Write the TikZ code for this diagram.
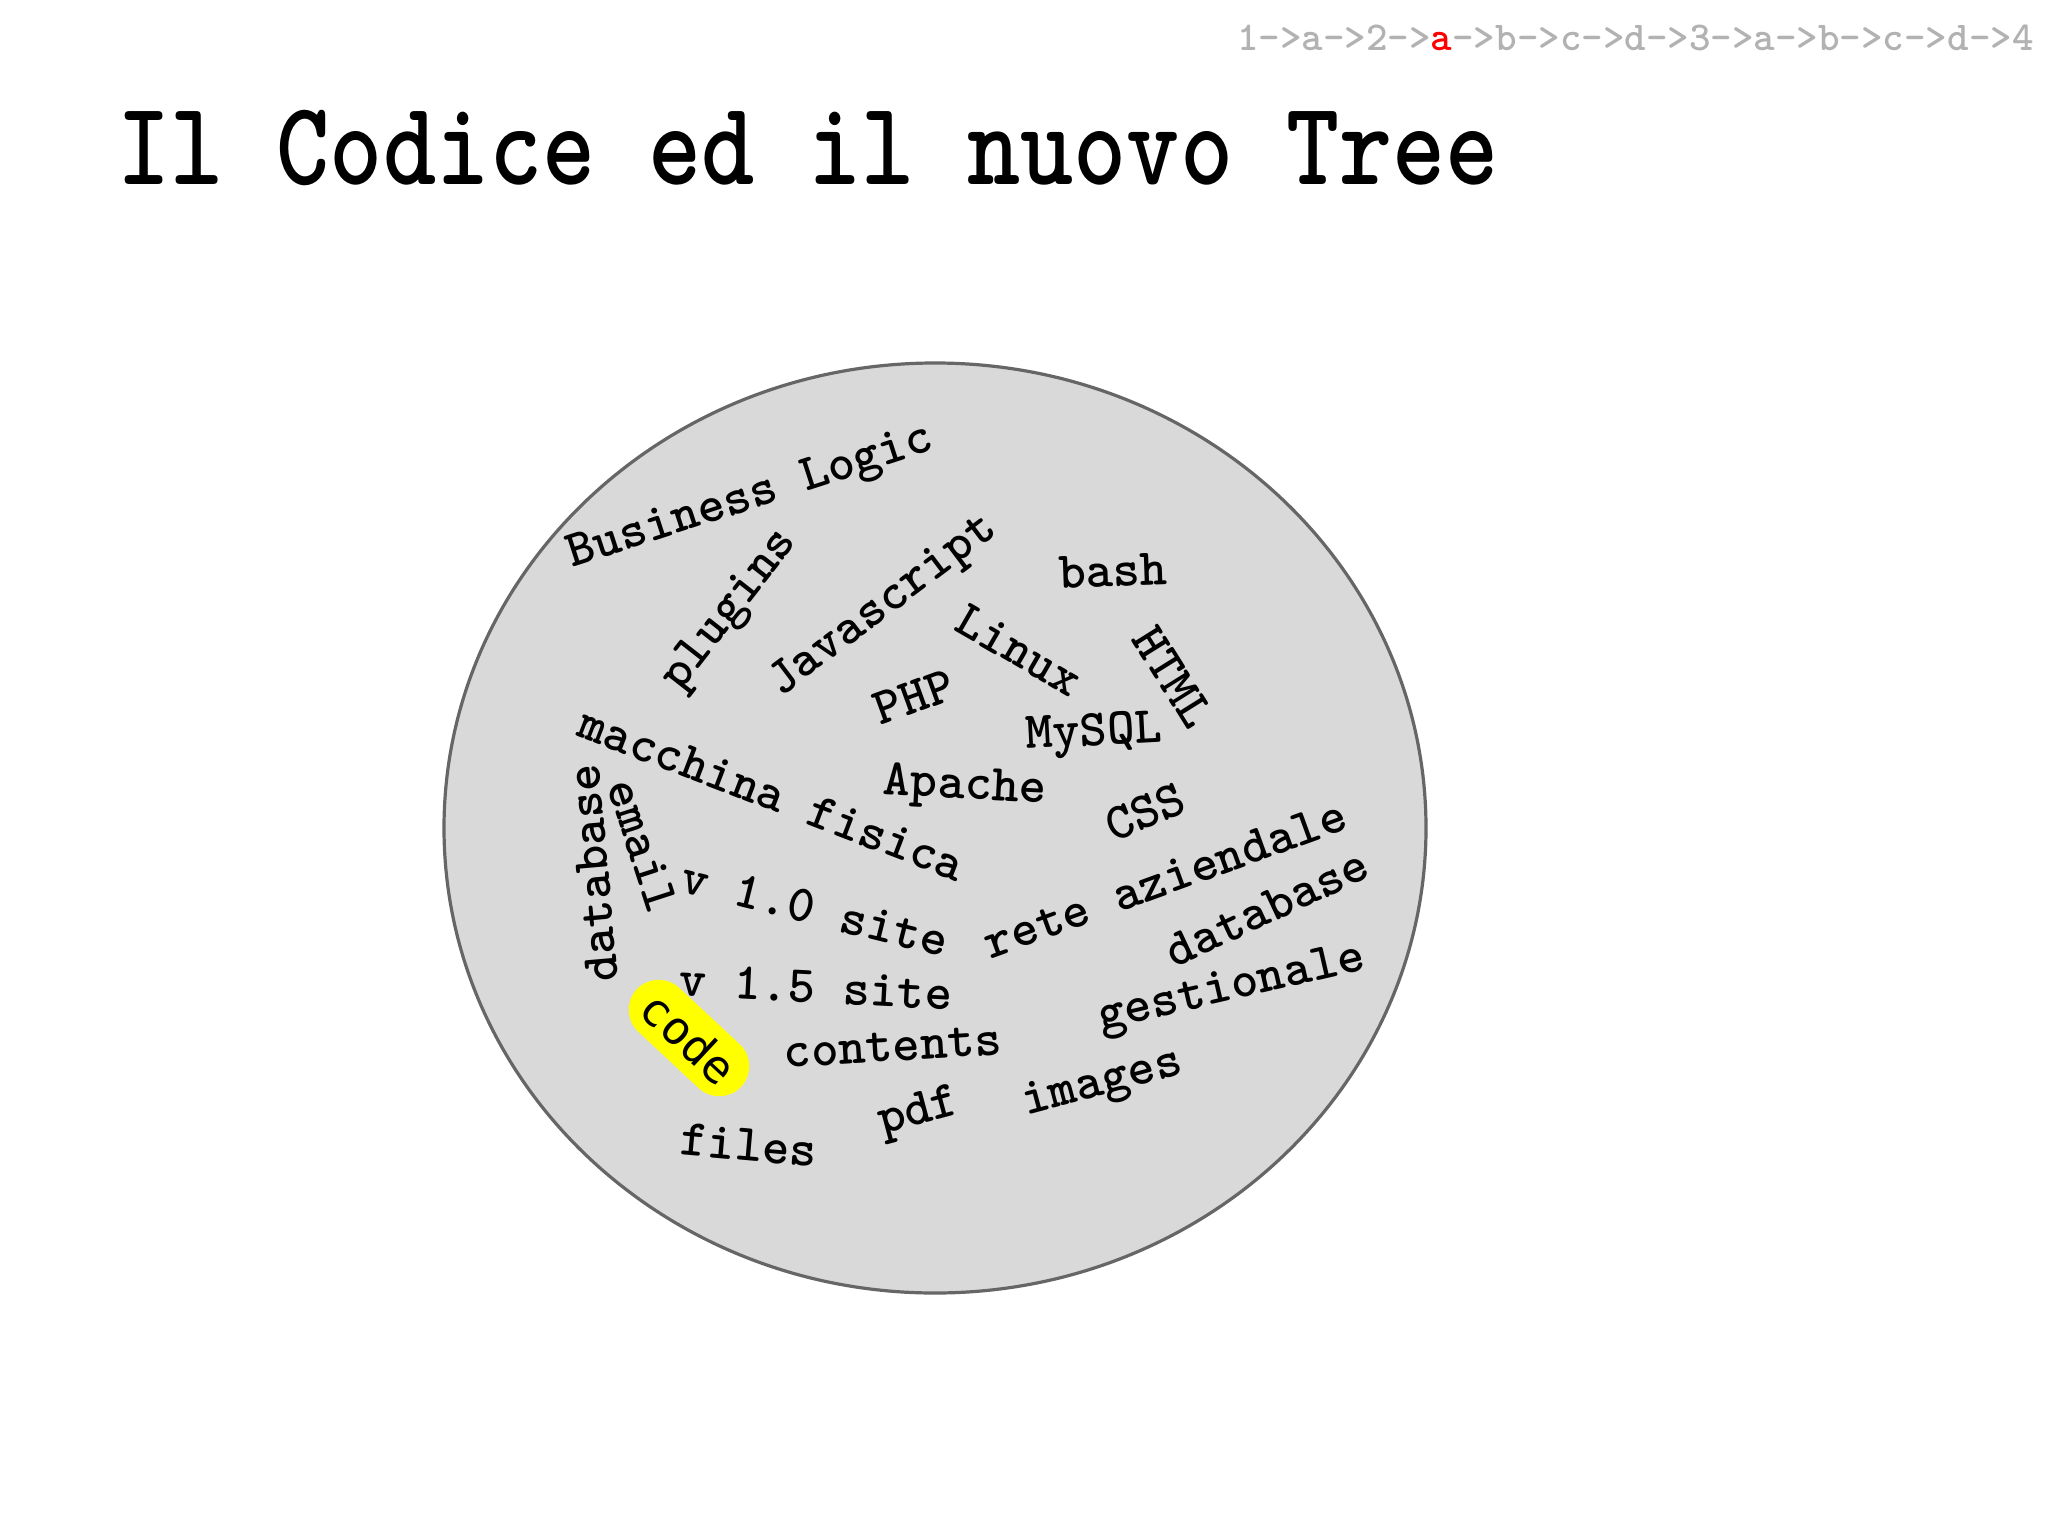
\documentclass[tikz,border=0pt]{standalone}
\usepackage{fontspec}
\newfontfamily\twb{lmmonolt10-bold.otf}
\newfontfamily\codefont{DejaVu Sans Mono}
\definecolor{crumb}{RGB}{178,178,178}
\definecolor{discfill}{RGB}{217,217,217}
\definecolor{discline}{RGB}{102,102,102}
\definecolor{hilite}{RGB}{255,255,0}
\tikzset{
  word/.style={font=\twb\fontsize{26}{26}\selectfont, inner sep=0pt, text=black},
  pill/.style={fill=hilite, rounded corners=15pt, minimum height=30pt, inner xsep=8pt, inner ysep=0pt,
    font=\codefont\fontsize{23}{23}\selectfont, text=black},
  titletext/.style={font=\twb\fontsize{50.6}{50.6}\selectfont, inner sep=0pt, anchor=base west},
  crumbtext/.style={font=\twb\fontsize{20.5}{20.5}\selectfont, inner sep=0pt, text=crumb},
  disc/.style={fill=discfill, draw=discline, line width=1.6pt}
}
\begin{document}
\begin{tikzpicture}[x=0.5pt,y=-0.5pt]
\useasboundingbox (0,0) rectangle (2048,1536);
\fill[white] (0,0) rectangle (2048,1536);
% breadcrumb
\node[crumbtext, anchor=east] (crumb) at (2034,38) {1->a->2->\textcolor{red}{a}->b->c->d->3->a->b->c->d->4};
% title
\node[titletext] (title) at (117,184) {\scalebox{1}[1.18]{Il Codice ed il nuovo Tree}};
% disc
\path[disc] (935,828) ellipse [x radius=245.5pt, y radius=232.5pt];
\coordinate (disccenter) at (935,828);
% words
\node[word, rotate=18] (business) at (751,499) {Business Logic};
\node[word, rotate=52] (plugins) at (731,611) {plugins};
\node[word, rotate=37] (javascript) at (884,607) {Javascript};
\node[word, rotate=2] (bash) at (1113,571) {bash};
\node[word, rotate=-30] (linux) at (1019,650) {Linux};
\node[word, rotate=-58] (html) at (1173,677) {HTML};
\node[word, rotate=20] (php) at (914,697) {PHP};
\node[word, rotate=3] (mysql) at (1094,735) {MySQL};
\node[word, rotate=-21] (macchina) at (772,794) {macchina fisica};
\node[word, rotate=-3] (apache) at (965,788) {Apache};
\node[word, rotate=22] (css) at (1145,812) {CSS};
\node[word, rotate=95] (databaseL) at (593,873) {database};
\node[word, rotate=-72] (email) at (643,846) {email};
\node[word, rotate=-14] (v10) at (815,909) {v 1.0 site};
\node[word, rotate=20] (rete) at (1165,879) {rete aziendale};
\node[word, rotate=25] (databaseR) at (1267,908) {database};
\node[word, rotate=-3] (v15) at (816,987) {v 1.5 site};
\node[word, rotate=13] (gestionale) at (1232,990) {gestionale};
\node[pill, rotate=-43] (code) at (689,1038) {code};
\node[word, rotate=3.5] (contents) at (893,1047) {contents};
\node[word, rotate=15] (images) at (1103,1085) {images};
\node[word, rotate=15] (pdf) at (919,1114) {pdf};
\node[word, rotate=-5] (files) at (749,1145) {files};
\end{tikzpicture}
\end{document}
